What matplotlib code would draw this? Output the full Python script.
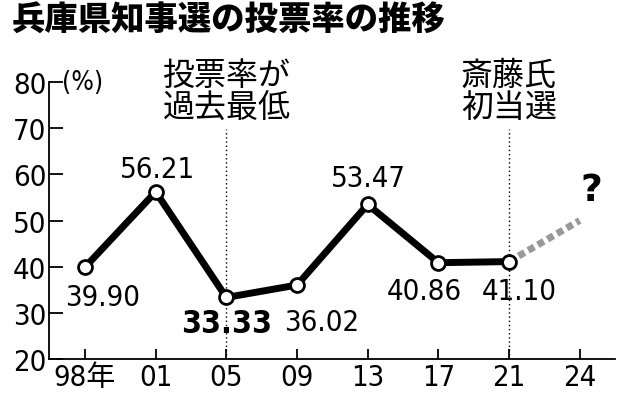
import matplotlib.pyplot as plt

years = ["98年", "01", "05", "09", "13", "17", "21", "24"]
turnout = [39.90, 56.21, 33.33, 36.02, 53.47, 40.86, 41.10]
labels = ["39.90", "56.21", "33.33", "36.02", "53.47", "40.86", "41.10"]
# pixel offsets of the value labels from their points
label_dx = [18, 2, 0, 25, 1, -14, 10]
label_dy = [-30, 23, -26, -37, 26, -28, -29]
future = [41.10, 50.0]

num_font = ["DejaVu Sans", "Noto Sans CJK JP"]
jp_font = ["Noto Sans CJK JP", "DejaVu Sans"]

fig = plt.figure(figsize=(6.4, 4.02), dpi=100)
ax = fig.add_axes([49 / 640, 1 - 360 / 402, 566 / 640, 277 / 402])

x = list(range(len(turnout)))
ax.plot(x, turnout, color="black", lw=5, solid_joinstyle="miter", zorder=3)
ax.plot([6, 7], future, color="#999999", lw=5, linestyle=(0, (1.0, 0.6)), zorder=2)
ax.plot(x, turnout, "o", ms=10, mfc="white", mec="black", mew=2, zorder=4)

for i, (v, t) in enumerate(zip(turnout, labels)):
    bold = t == "33.33"
    ax.annotate(t, (i, v), xytext=(label_dx[i], label_dy[i]), textcoords="offset pixels",
                ha="center", va="center", fontsize=23 if bold else 21, family=num_font,
                fontstretch="condensed", fontweight="bold" if bold else "normal")

# vertical markers and notes
for xi in (2, 6):
    ax.plot([xi, xi], [20, 69.8], color="black", lw=1, linestyle=(0, (1, 2)), zorder=1)
ax.text(2, 78.0, "投票率が\n過去最低", ha="center", va="center", fontsize=23,
        family=jp_font, linespacing=1.0, clip_on=False)
ax.text(6, 78.0, "斎藤氏\n初当選", ha="center", va="center", fontsize=23,
        family=jp_font, linespacing=1.0, clip_on=False)
ax.text(7.17, 56.6, "?", ha="center", va="center", fontsize=27, fontweight="bold",
        family=["DejaVu Sans"])

ax.set_xlim(-0.51, 7.5)
ax.set_ylim(20, 80)
ax.set_xticks(range(len(years)))
ax.set_xticklabels(years, family=num_font, fontstretch="condensed", fontsize=21)
ax.set_yticks(range(20, 81, 10))
ax.set_yticklabels([str(v) for v in range(20, 81, 10)], family=num_font,
                   fontstretch="condensed", fontsize=21)
ax.tick_params(axis="y", direction="in", length=10, width=1.3, pad=2)
ax.tick_params(axis="x", direction="in", length=7, width=1.3, pad=3)
for s in ("top", "right"):
    ax.spines[s].set_visible(False)
for s in ("left", "bottom"):
    ax.spines[s].set_linewidth(1.3)
ax.text(-0.33, 80, "(%)", ha="left", va="center", fontsize=19, family=num_font,
        fontstretch="condensed", clip_on=False)

fig.text(12 / 640, 1 - 3 / 402, "兵庫県知事選の投票率の推移", ha="left", va="top",
         fontsize=24, fontweight="black", family=jp_font)

fig.savefig("out.png", dpi=100)
